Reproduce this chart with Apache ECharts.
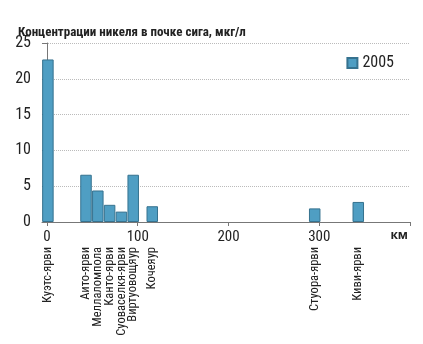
<!DOCTYPE html>
<html>
<head>
<meta charset="utf-8">
<script src="https://cdn.jsdelivr.net/npm/echarts@6/dist/echarts.min.js"></script>
<style>
  html, body { margin: 0; padding: 0; background: #fff; }
  #chart { width: 423px; height: 344px; }
</style>
</head>
<body>
<div id="chart"></div>
<script>
// Lakes along the river, distance from the first lake in km
const lakeNames = ['Куэтс-ярви', 'Аито-ярви', 'Меллаломпола', 'Канто-ярви', 'Суоваселкя-ярви',
                   'Виртуовощяур', 'Кочеяур', 'Стуора-ярви', 'Киви-ярви'];
const lakeKm = [1, 43, 56, 69, 82, 95, 116, 295, 343];
// Nickel concentration in whitefish kidney, 2005, µg/l
const nickel2005 = [22.7, 6.6, 4.4, 2.4, 1.45, 6.6, 2.2, 1.9, 2.8];
const kmTicks = [0, 100, 200, 300];
const yTicks = [0, 5, 10, 15, 20, 25];

const narrow = '"Roboto Condensed", "Open Sans Condensed", sans-serif';
const chart = echarts.init(document.getElementById('chart'));

chart.setOption({
  animation: false,
  title: {
    text: 'Концентрации никеля в почке сига, мкг/л',
    left: 13, top: 21,
    textStyle: { fontFamily: narrow, fontWeight: 'bold', fontSize: 13, color: '#222' }
  },
  legend: {
    right: 24, top: 50,
    itemWidth: 10, itemHeight: 10, itemGap: 6,
    textStyle: { fontFamily: narrow, fontSize: 16, color: '#222' },
    data: [{ name: '2005', icon: 'rect' }]
  },
  grid: { left: 42, right: 13, top: 43, bottom: 122, outerBoundsMode: 'none' },
  xAxis: [
    {
      type: 'value', min: -5.5, max: 400,
      name: 'км', nameLocation: 'end', nameGap: -2,
      nameTextStyle: { fontFamily: '"Open Sans", sans-serif', fontWeight: 'bold', fontSize: 12,
                       color: '#222', align: 'right', verticalAlign: 'top', padding: [8, 0, 0, 0] },
      axisLine: { lineStyle: { color: '#777', width: 1 } },
      axisTick: { show: true, length: 4, customValues: kmTicks.concat([400]), lineStyle: { color: '#777' } },
      axisLabel: { customValues: kmTicks, margin: 8, fontFamily: narrow, fontSize: 15, color: '#222' },
      splitLine: { show: false }
    },
    {
      type: 'value', min: -5.5, max: 400, position: 'bottom',
      axisLine: { show: false }, axisTick: { show: false },
      axisLabel: {
        customValues: lakeKm, rotate: 90, margin: 25,
        fontFamily: narrow, fontSize: 12.5, color: '#222',
        formatter: v => lakeNames[lakeKm.indexOf(v)]
      },
      splitLine: { show: false }
    }
  ],
  yAxis: {
    type: 'value', min: 0, max: 25, interval: 5,
    axisLine: { show: true, lineStyle: { color: '#777', width: 1 } },
    axisTick: { show: true, length: 5, lineStyle: { color: '#777' } },
    axisLabel: { margin: 11, fontFamily: narrow, fontSize: 16, color: '#222',
                 customValues: yTicks },
    splitLine: { lineStyle: { color: '#bbb', type: [1, 1], width: 1 } }
  },
  series: [{
    name: '2005', type: 'bar', xAxisIndex: 0,
    barWidth: 11.5,
    itemStyle: { color: '#4f9ec3', borderColor: '#36728f', borderWidth: 1 },
    data: lakeKm.map((k, i) => [k, nickel2005[i]])
  }]
});
</script>
</body>
</html>
